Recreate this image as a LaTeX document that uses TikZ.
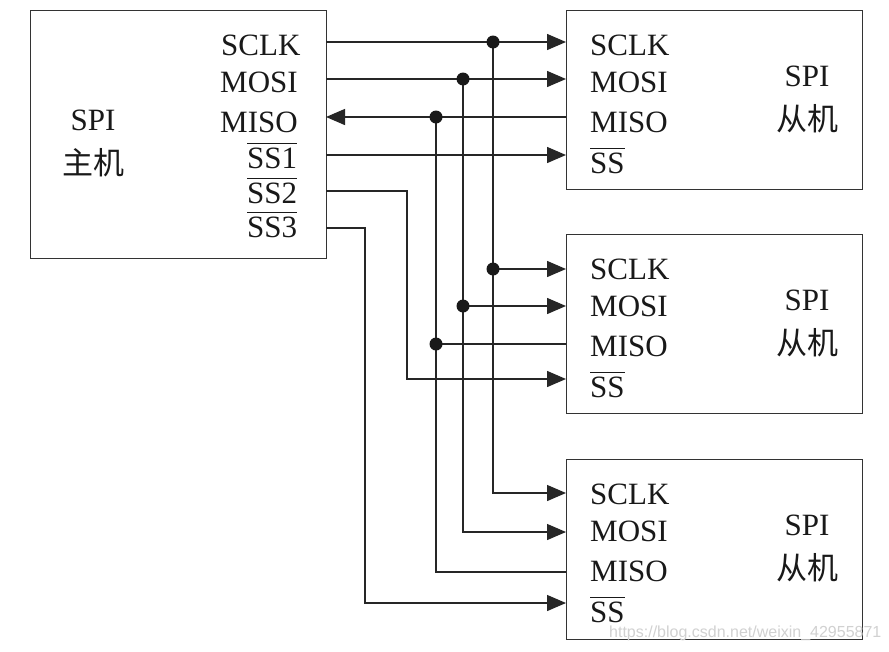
\documentclass[tikz,border=0pt]{standalone}
\usepackage{fontspec}
\setmainfont{Liberation Serif}
\newfontfamily\cjk{Noto Sans CJK SC}
\newfontfamily\wmfont{Liberation Sans}
\usetikzlibrary{arrows.meta}
\newcommand{\ssbar}[1]{$\overline{\mbox{\rule{0pt}{0.74em}#1}}$}
\begin{document}
\begin{tikzpicture}[x=1pt,y=-1pt,
  box/.style={draw=black!80, line width=1.4pt, anchor=north west, inner sep=0pt, minimum width=296pt},
  lbl/.style={anchor=base west, inner sep=0pt, font=\fontsize{31}{31}\selectfont, text=black!90},
  clbl/.style={anchor=base, inner sep=0pt, font=\fontsize{31}{31}\selectfont, text=black!90},
  sig/.style={line width=1.4pt, draw=black!85},
  arr/.style={sig, -{Triangle[length=19pt,width=16pt]}},
  jdot/.style={circle, fill=black!90, inner sep=0pt, minimum size=13pt}]
\useasboundingbox (0,0) rectangle (889,651);
\fill[white] (0,0) rectangle (889,651);

% boxes
\node[box, minimum height=248pt] (master) at (30,10) {};
\node[box, minimum height=179pt] (slaveA) at (566,10) {};
\node[box, minimum height=179pt] (slaveB) at (566,234) {};
\node[box, minimum height=180pt] (slaveC) at (566,459) {};

% master labels
\node[clbl] (mspi) at (93,130) {SPI};
\node[clbl] (mzj) at (93,174) {\cjk 主机};
\node[lbl] (mSCLK) at (221,55) {SCLK};
\node[lbl] (mMOSI) at (220,92) {MOSI};
\node[lbl] (mMISO) at (220,132) {MISO};
\node[lbl] (mSS1) at (247,168) {\ssbar{SS1}};
\node[lbl] (mSS2) at (247,203) {\ssbar{SS2}};
\node[lbl] (mSS3) at (247,237) {\ssbar{SS3}};

% slave labels
\foreach \n/\t in {A/10, B/234, C/459}{
  \node[lbl] (s\n SCLK) at (590,\t+45) {SCLK};
  \node[lbl] (s\n MOSI) at (590,\t+82) {MOSI};
  \node[lbl] (s\n MISO) at (590,\t+122) {MISO};
  \node[lbl] (s\n SS) at (590,\t+163) {\ssbar{SS}};
  \node[clbl] (s\n spi) at (807,\t+76) {SPI};
  \node[clbl] (s\n cj) at (807,\t+120) {\cjk 从机};
}

% pins
\coordinate (pSCLK) at (326,42);
\coordinate (pMOSI) at (326,79);
\coordinate (pMISO) at (326,117);
\coordinate (pSS1) at (326,155);
\coordinate (pSS2) at (326,191);
\coordinate (pSS3) at (326,228);

\coordinate (aA) at (566,42);  \coordinate (aB) at (566,79);
\coordinate (aC) at (566,117); \coordinate (aD) at (566,155);
\coordinate (bA) at (566,269); \coordinate (bB) at (566,306);
\coordinate (bC) at (566,344); \coordinate (bD) at (566,379);
\coordinate (cA) at (566,493); \coordinate (cB) at (566,532);
\coordinate (cC) at (566,572); \coordinate (cD) at (566,603);

% junctions
\coordinate (j1a) at (493,42);  \coordinate (j1b) at (493,269);
\coordinate (j2a) at (463,79);  \coordinate (j2b) at (463,306);
\coordinate (j3a) at (436,117); \coordinate (j3b) at (436,344);
\coordinate (k2) at (407,191);
\coordinate (k3) at (365,228);

% master to slave A
\draw[arr] (pSCLK) -- (aA);
\draw[arr] (pMOSI) -- (aB);
\draw[arr] (aC) -- (pMISO);
\draw[arr] (pSS1) -- (aD);

% SCLK bus
\draw[sig] (j1a) -- (j1b);
\draw[arr] (j1b) -- (bA);
\draw[arr] (j1b) |- (cA);
% MOSI bus
\draw[sig] (j2a) -- (j2b);
\draw[arr] (j2b) -- (bB);
\draw[arr] (j2b) |- (cB);
% MISO bus
\draw[sig] (j3a) -- (j3b);
\draw[sig] (bC) -- (j3b);
\draw[sig] (cC) -| (j3b);
% slave selects
\draw[arr] (pSS2) -- (k2) |- (bD);
\draw[arr] (pSS3) -- (k3) |- (cD);

% dots
\foreach \j in {j1a,j1b,j2a,j2b,j3a,j3b} \node[jdot] at (\j) {};

% watermark
\node[anchor=base west, inner sep=0pt, font=\wmfont\fontsize{16}{16}\selectfont, text=black!18] (wm) at (609,637) {https://blog.csdn.net/weixin\_42955871};
\end{tikzpicture}
\end{document}
